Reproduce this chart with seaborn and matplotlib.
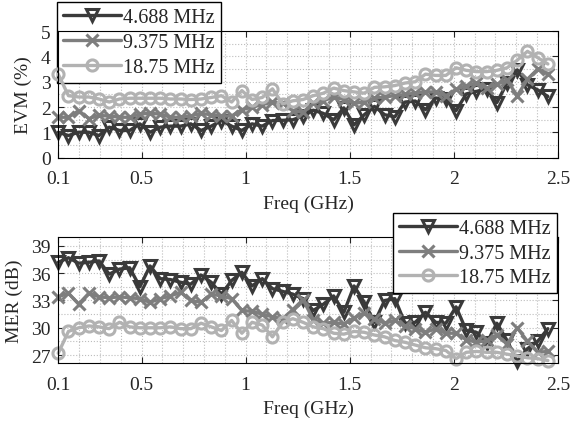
import numpy as np
import pandas as pd
import matplotlib
matplotlib.use('Agg')
import matplotlib.pyplot as plt
from matplotlib.ticker import MultipleLocator
import seaborn as sns

# Frequency points (GHz)
freq = [0.100, 0.149, 0.198, 0.247, 0.296, 0.345, 0.394, 0.443, 0.492, 0.541,
        0.590, 0.639, 0.688, 0.737, 0.786, 0.835, 0.884, 0.933, 0.982, 1.031,
        1.080, 1.129, 1.178, 1.227, 1.276, 1.325, 1.374, 1.423, 1.472, 1.521,
        1.570, 1.619, 1.668, 1.717, 1.766, 1.815, 1.864, 1.913, 1.962, 2.011,
        2.060, 2.109, 2.158, 2.207, 2.256, 2.305, 2.354, 2.403, 2.452]

labels = ['4.688 MHz', '9.375 MHz', '18.75 MHz']

# EVM (%)
evm_4688 = [1.01, 0.88, 1.01, 1.01, 0.88, 1.21, 1.08, 1.08, 1.34, 1.01,
            1.21, 1.25, 1.25, 1.34, 1.08, 1.25, 1.47, 1.25, 1.08, 1.34,
            1.25, 1.47, 1.48, 1.50, 1.65, 1.88, 1.75, 1.50, 1.97, 1.30,
            1.70, 2.03, 1.70, 1.62, 2.20, 2.24, 1.90, 2.36, 2.32, 1.86,
            2.52, 2.62, 2.72, 2.18, 2.95, 3.47, 2.88, 2.68, 2.42]
evm_9375 = [1.60, 1.60, 1.86, 1.55, 1.67, 1.65, 1.60, 1.60, 1.73, 1.75,
            1.73, 1.60, 1.60, 1.65, 1.75, 1.70, 1.65, 1.65, 1.90, 2.00,
            2.10, 2.20, 2.15, 1.85, 1.80, 2.15, 2.25, 2.40, 2.30, 2.15,
            2.20, 2.35, 2.40, 2.45, 2.50, 2.55, 2.60, 2.60, 2.45, 2.70,
            2.85, 2.95, 2.75, 2.90, 3.05, 2.45, 3.10, 3.50, 3.30]
evm_1875 = [3.30, 2.45, 2.40, 2.40, 2.32, 2.20, 2.32, 2.35, 2.35, 2.35,
            2.35, 2.32, 2.32, 2.30, 2.32, 2.38, 2.45, 2.20, 2.65, 2.30,
            2.38, 2.72, 2.13, 2.25, 2.30, 2.45, 2.55, 2.75, 2.65, 2.60,
            2.55, 2.78, 2.80, 2.85, 2.95, 3.00, 3.30, 3.25, 3.25, 3.55,
            3.45, 3.40, 3.40, 3.45, 3.55, 3.85, 4.20, 3.95, 3.70]

# MER (dB)
mer_4688 = [37.2, 37.7, 37.1, 37.2, 37.35, 35.9, 36.45, 36.6, 34.5, 36.8,
            35.4, 35.3, 35.0, 34.8, 35.8, 35.0, 33.7, 35.2, 36.1, 34.6,
            35.4, 34.3, 34.0, 33.7, 33.2, 31.9, 32.6, 33.5, 31.7, 34.6,
            32.8, 30.6, 33.0, 33.2, 30.5, 30.6, 31.7, 30.6, 30.5, 32.3,
            29.7, 29.5, 28.3, 30.5, 28.6, 26.3, 27.7, 28.5, 29.9]
mer_9375 = [33.4, 33.8, 32.6, 33.8, 33.4, 33.3, 33.4, 33.3, 33.2, 32.8,
            33.2, 33.5, 33.9, 33.0, 32.8, 33.7, 33.5, 33.2, 31.9, 31.8,
            31.5, 31.2, 31.0, 32.0, 33.1, 30.9, 30.5, 30.6, 30.4, 31.1,
            31.6, 31.0, 30.5, 30.8, 30.2, 29.9, 29.5, 29.9, 29.4, 29.4,
            28.7, 28.4, 28.6, 29.2, 28.2, 30.0, 28.5, 27.3, 27.4]
mer_1875 = [27.2, 29.6, 30.0, 30.2, 30.1, 29.9, 30.6, 30.1, 30.0, 30.0,
            30.0, 30.1, 29.9, 29.9, 30.5, 30.1, 29.7, 30.8, 29.4, 30.6,
            30.3, 29.0, 30.6, 31.0, 30.6, 30.1, 29.9, 29.4, 29.3, 29.6,
            29.5, 29.2, 29.0, 28.6, 28.4, 28.1, 27.8, 27.7, 27.5, 26.6,
            27.3, 27.4, 27.3, 27.3, 27.1, 26.9, 26.7, 26.6, 26.4]

colors = ['#3a3a3a', '#7e7e7e', '#b2b2b2']
markers = ['v', 'x', 'o']

xticks = [0.1, 0.5, 1, 1.5, 2, 2.5]
xticklabels = ['0.1', '0.5', '1', '1.5', '2', '2.5']

sns.set_style('ticks')
plt.rcParams['font.family'] = ['Liberation Serif', 'DejaVu Serif']
plt.rcParams['font.size'] = 14


def desenha(ax, series, ylabel):
    for vals, lab, c, m in zip(series, labels, colors, markers):
        df = pd.DataFrame({'freq': freq, 'val': vals})
        sns.lineplot(x='freq', y='val', data=df, ax=ax, color=c, marker=m,
                     markersize=8, markerfacecolor='none', markeredgecolor=c,
                     markeredgewidth=2.2, linewidth=2.4, label=lab,
                     clip_on=False)
    ax.set_xlim(0.1, 2.5)
    ax.set_xticks(xticks)
    ax.set_xticklabels(xticklabels)
    ax.xaxis.set_minor_locator(MultipleLocator(0.1))
    ax.set_xlabel('Freq (GHz)', fontsize=14, labelpad=5)
    ax.set_ylabel(ylabel, fontsize=14, labelpad=6)
    ax.grid(True, which='both', linestyle=':', color='#bdbdbd', linewidth=0.8)
    ax.tick_params(which='both', direction='in', top=True, right=True,
                   labelsize=14)
    ax.tick_params(axis='x', pad=9)
    ax.tick_params(axis='y', pad=5.5)
    ax.tick_params(which='major', length=4)
    ax.tick_params(which='minor', length=0)
    for s in ax.spines.values():
        s.set_linewidth(0.8)
        s.set_color('black')


fig = plt.figure(figsize=(5.71, 4.27), dpi=100)
ax1 = fig.add_axes([0.102, 0.628, 0.875, 0.297])
ax2 = fig.add_axes([0.102, 0.147, 0.875, 0.296])

leg_kw = dict(borderaxespad=0, fancybox=False, edgecolor='black', framealpha=1,
              fontsize=14.5, handlelength=2.9, handletextpad=0.1,
              labelspacing=0.28, borderpad=0.3)

desenha(ax1, [evm_4688, evm_9375, evm_1875], 'EVM (%)')
ax1.set_ylim(0, 5)
ax1.set_yticks([0, 1, 2, 3, 4, 5])
ax1.yaxis.set_minor_locator(MultipleLocator(0.5))
leg1 = ax1.legend(loc='upper left', bbox_to_anchor=(-0.003, 1.228), **leg_kw)
leg1.set_zorder(1.5)

desenha(ax2, [mer_4688, mer_9375, mer_1875], 'MER (dB)')
ax2.set_ylim(26.1, 40)
ax2.set_yticks([27, 30, 33, 36, 39])
ax2.yaxis.set_minor_locator(MultipleLocator(1.5))
ax2.legend(loc='upper right', bbox_to_anchor=(0.998, 1.19), **leg_kw)

fig.savefig('out.png', dpi=100)
